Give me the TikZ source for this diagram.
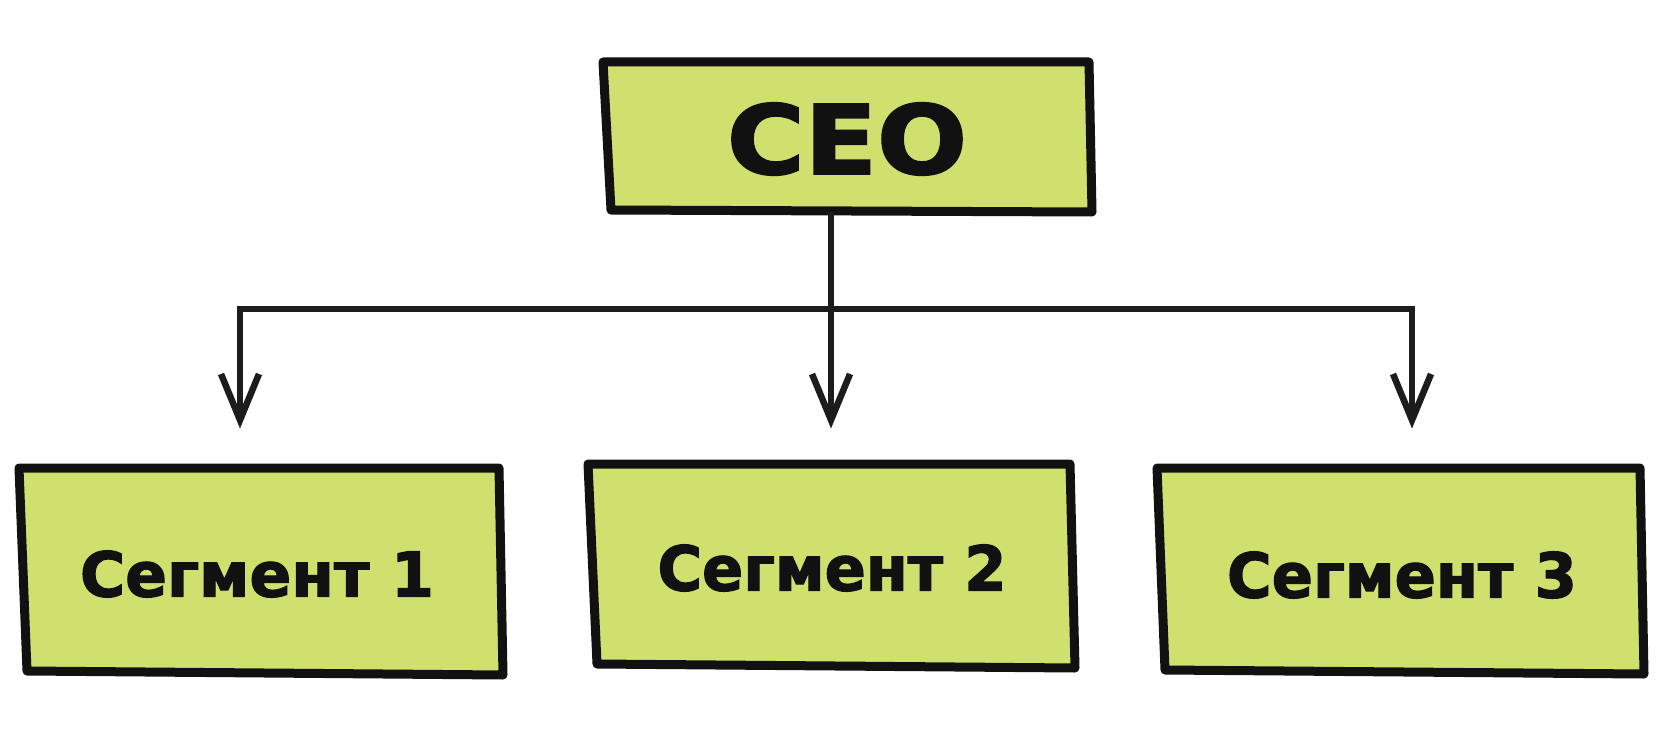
\documentclass[tikz,border=0pt]{standalone}
\usepackage{fontspec}
\newfontfamily\heavy{DejaVu Sans}[UprightFont=* Bold, FakeBold=2]
\usetikzlibrary{calc}
\definecolor{boxgreen}{RGB}{207,224,110}
\definecolor{ink}{RGB}{17,17,17}
\definecolor{wire}{RGB}{28,28,28}
\tikzset{
  card/.style={fill=boxgreen, draw=ink, line width=9pt, line join=round},
  label/.style={inner sep=0pt, text=ink},
  wireline/.style={draw=wire, line width=6.5pt, line join=miter},
  barb/.style={draw=wire, line width=6.5pt, line join=miter, line cap=butt}
}
\begin{document}
\begin{tikzpicture}[x=1pt,y=-1pt]
\useasboundingbox[fill=white] (0,0) rectangle (1680,730);
% boxes
\draw[card] (603,62) -- (1089,62) -- (1092,212) -- (611,210) -- cycle;
\draw[card] (19,468) -- (499,468) -- (503,675) -- (27,671) -- cycle;
\draw[card] (588,464) -- (1070,464) -- (1075,668) -- (597,664) -- cycle;
\draw[card] (1157,468) -- (1640,468) -- (1644,674) -- (1165,670) -- cycle;
% labels
\node[label] (ceo) at (847,139) {\resizebox{240pt}{71pt}{\heavy CEO}};
\node[label] (s1) at (257,574) {\resizebox{354pt}{46pt}{\heavy Сегмент 1}};
\node[label] (s2) at (832,568) {\resizebox{349pt}{46pt}{\heavy Сегмент 2}};
\node[label] (s3) at (1402,575) {\resizebox{350pt}{46pt}{\heavy Сегмент 3}};
% connectors
\coordinate (ceob) at (831,212);
\coordinate (jc) at (831,309);
\coordinate (jl) at (240,309);
\coordinate (jr) at (1412,309);
\coordinate (t1) at (240,420);
\coordinate (t2) at (831,420);
\coordinate (t3) at (1412,420);
\draw[wireline] (ceob) -- (jc);
\draw[wireline] (t1) -- (jl) -- (jr) -- (t3);
\draw[wireline] (jc) -- (t2);
\foreach \t in {t1,t2,t3}
  \draw[barb] ($(\t)+(-19,-46)$) -- (\t) -- ($(\t)+(19,-46)$);
\end{tikzpicture}
\end{document}
